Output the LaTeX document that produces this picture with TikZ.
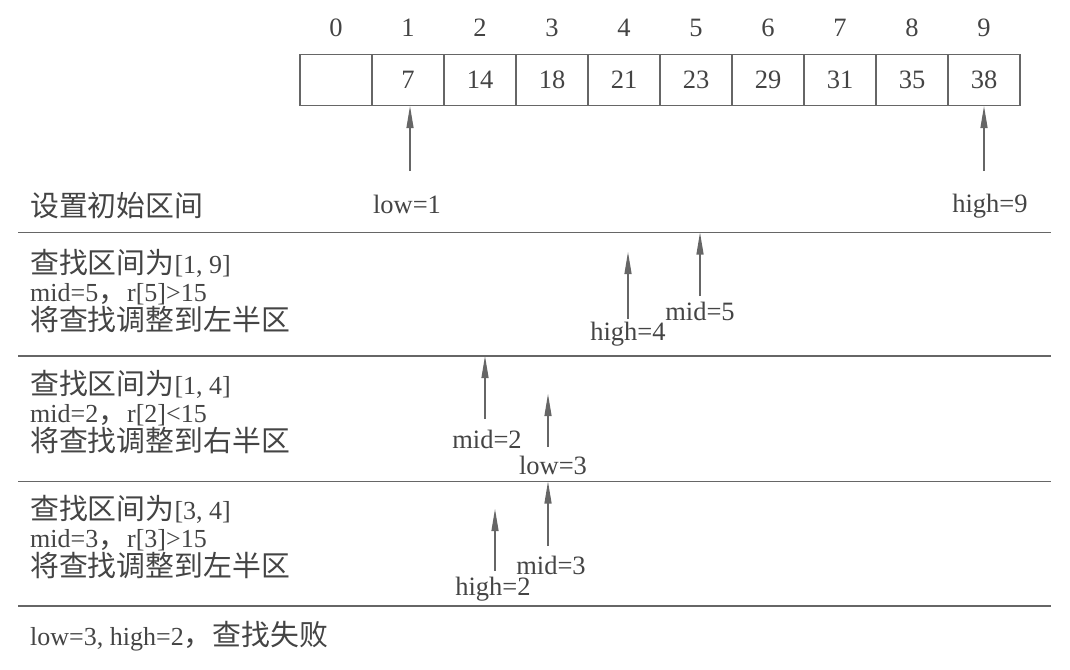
\documentclass[tikz,border=0pt]{standalone}
\usepackage{fontspec}
\setmainfont{Liberation Serif}
\newfontfamily\cjk{Noto Sans CJK SC}[Scale=1.11]
\usetikzlibrary{arrows.meta}
\definecolor{ink}{HTML}{444444}
\definecolor{rule}{HTML}{666666}
\begin{document}
\begin{tikzpicture}[x=1pt,y=-1pt,
  every node/.style={text=ink,font=\fontsize{26.5}{27}\selectfont,inner sep=0pt},
  cell/.style={draw=rule,line width=1.1pt,minimum width=72pt,minimum height=51pt},
  idx/.style={},
  lab/.style={},
  rowtxt/.style={anchor=west,align=left,font=\fontsize{26}{27.5}\selectfont},
  sep/.style={draw=rule,line width=1.3pt},
  arr/.style={draw=rule,line width=1.2pt,-{Triangle[length=22pt,width=7pt]}}]
\useasboundingbox (0,0) rectangle (1070,669);
% array
\foreach \i/\v in {0/,1/7,2/14,3/18,4/21,5/23,6/29,7/31,8/35,9/38}{
  \node[cell] (c\i) at ({336+72*\i},80) {\v};
  \node[idx] (n\i) at ({336+72*\i},28) {\i};
}
% separator lines
\coordinate (L1a) at (18,232.5); \coordinate (L1b) at (1051,232.5);
\coordinate (L2a) at (18,356); \coordinate (L2b) at (1051,356);
\coordinate (L3a) at (18,481.5); \coordinate (L3b) at (1051,481.5);
\coordinate (L4a) at (18,606); \coordinate (L4b) at (1051,606);
\draw[sep] (L1a) -- (L1b);
\draw[sep] (L2a) -- (L2b);
\draw[sep] (L3a) -- (L3b);
\draw[sep] (L4a) -- (L4b);
% row texts
\node[rowtxt] (r1) at (30,206) {{\cjk 设置初始区间}};
\node[rowtxt] (r2) at (30,291) {{\cjk 查找区间为}[1, 9]\\mid=5{\cjk ，}r[5]>15\\{\cjk 将查找调整到左半区}};
\node[rowtxt] (r3) at (30,412) {{\cjk 查找区间为}[1, 4]\\mid=2{\cjk ，}r[2]<15\\{\cjk 将查找调整到右半区}};
\node[rowtxt] (r4) at (30,537) {{\cjk 查找区间为}[3, 4]\\mid=3{\cjk ，}r[3]>15\\{\cjk 将查找调整到左半区}};
\node[rowtxt] (r5) at (30,636) {low=3, high=2{\cjk ，查找失败}};
% labels
\node[lab] (low1) at (407,204) {low=1};
\node[lab] (high9) at (990,206) {high=9};
\node[lab] (mid5) at (700,311) {mid=5};
\node[lab] (high4) at (628,334) {high=4};
\node[lab] (mid2) at (487,439) {mid=2};
\node[lab] (low3) at (553,465) {low=3};
\node[lab] (mid3) at (551,565) {mid=3};
\node[lab] (high2) at (493,589) {high=2};
% arrow tails and tips
\coordinate (t1) at (410,171);
\coordinate (t2) at (984,171);
\coordinate (t3) at (700,296); \coordinate (h3) at (700,232.5);
\coordinate (t4) at (628,319); \coordinate (h4) at (628,252);
\coordinate (t5) at (485,419); \coordinate (h5) at (485,356);
\coordinate (t6) at (548,447); \coordinate (h6) at (548,394);
\coordinate (t7) at (548,546); \coordinate (h7) at (548,481.5);
\coordinate (t8) at (495,571); \coordinate (h8) at (495,509);
\draw[arr] (t1) -- (t1 |- c1.south);
\draw[arr] (t2) -- (t2 |- c9.south);
\draw[arr] (t3) -- (h3);
\draw[arr] (t4) -- (h4);
\draw[arr] (t5) -- (h5);
\draw[arr] (t6) -- (h6);
\draw[arr] (t7) -- (h7);
\draw[arr] (t8) -- (h8);
\end{tikzpicture}
\end{document}
